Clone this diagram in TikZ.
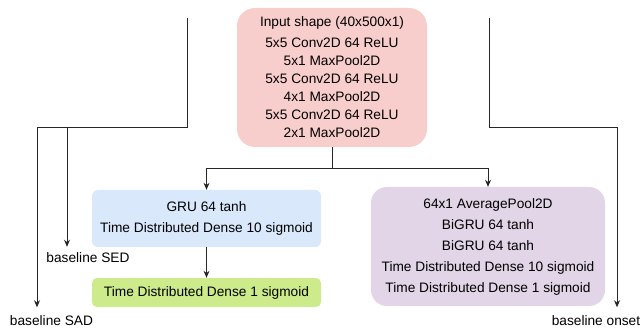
\documentclass[tikz,border=0pt]{standalone}
\usepackage{fontspec}
\setmainfont{Liberation Sans}
\usepackage{tikz}
\usetikzlibrary{arrows.meta}

\definecolor{rosa}{HTML}{F8CECC}
\definecolor{azul}{HTML}{DAE8FC}
\definecolor{verde}{HTML}{CDEB8B}
\definecolor{lila}{HTML}{E1D5E7}

\tikzset{
    bloque/.style={fill=#1, draw=none, inner sep=0pt, align=center,
        font=\fontsize{13.7}{21}\selectfont},
    etiqueta/.style={inner sep=0pt, font=\fontsize{13.7}{16}\selectfont},
    linea/.style={draw=black!85, line width=0.9pt},
    flecha/.style={linea, -{Stealth[length=7pt,width=6pt]}}
}

\begin{document}
\begin{tikzpicture}[x=1pt,y=-1pt]
            \useasboundingbox (0,0) rectangle (644,328);

            % Bloques
            \node[bloque=rosa, rounded corners=18pt, minimum width=190pt, minimum height=139pt,
                font=\fontsize{13.7}{18}\selectfont] (entrada) at (332,77.5)
                {Input shape (40x500x1)\\[3pt] 5x5 Conv2D 64 ReLU\\ 5x1 MaxPool2D\\
                 5x5 Conv2D 64 ReLU\\ 4x1 MaxPool2D\\ 5x5 Conv2D 64 ReLU\\ 2x1 MaxPool2D};
            \node[bloque=azul, rounded corners=6pt, minimum width=229pt, minimum height=57pt] (gru) at (206.5,218.5)
                {GRU 64 tanh\\ Time Distributed Dense 10 sigmoid};
            \node[bloque=verde, rounded corners=5pt, minimum width=229pt, minimum height=29pt] (densa) at (206.5,292.5)
                {Time Distributed Dense 1 sigmoid};
            \node[bloque=lila, rounded corners=16pt, minimum width=234pt, minimum height=119pt] (bigru) at (488,246.5)
                {64x1 AveragePool2D\\ BiGRU 64 tanh\\ BiGRU 64 tanh\\
                 Time Distributed Dense 10 sigmoid\\ Time Distributed Dense 1 sigmoid};

            % Etiquetas
            \node[etiqueta] (sed) at (88,258) {baseline SED};
            \node[etiqueta] (sad) at (51.5,321) {baseline SAD};
            \node[etiqueta] (onset) at (596,321) {baseline onset};

            % Puntos de paso
            \coordinate (izqarriba) at (187,18);
            \coordinate (izqcodo) at (37,127);
            \coordinate (sedrama) at (67,127);
            \coordinate (derarriba) at (489,18);
            \coordinate (dercodo) at (617,127);
            \coordinate (reparto) at (332,168);

            % Conexiones
            \draw[linea] (entrada.south) -- (reparto);
            \draw[flecha] (reparto) -| (gru.north);
            \draw[flecha] (reparto) -| (bigru.north);
            \draw[flecha] (gru.south) -- (densa.north);

            % Salidas baseline
            \draw[flecha, shorten >=8.5pt] (izqarriba) |- (izqcodo) -- (izqcodo |- sad.north);
            \draw[flecha, shorten >=6pt] (sedrama) -- (sedrama |- sed.north);
            \draw[flecha, shorten >=8.5pt] (derarriba) |- (dercodo) -- (dercodo |- onset.north);
        \end{tikzpicture}
\end{document}
